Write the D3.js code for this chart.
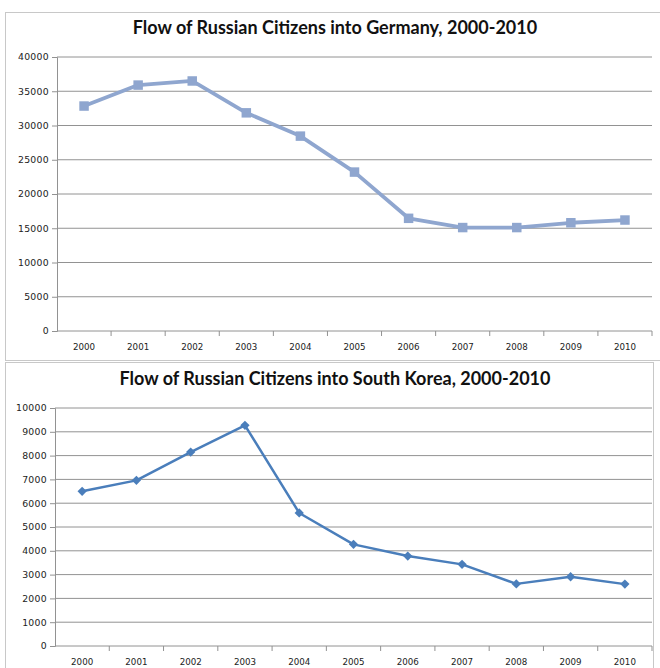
<!DOCTYPE html>
<html>
<head>
  <script src="https://d3js.org/d3.v7.min.js"></script>
  <style>
    body { margin: 0; background: #fff; }
    .tick text { font-family: "DejaVu Sans", Verdana, sans-serif; font-size: 9.3px; letter-spacing: 0.3px; fill: #222; }
    .title { font-family: Lato, "Open Sans", sans-serif; font-weight: bold; font-size: 18px; fill: #111; }
  </style>
</head>
<body>
<div id="chart"></div>
<script>
  // data
  var years = ["2000","2001","2002","2003","2004","2005","2006","2007","2008","2009","2010"];
  var germany = [32840, 35900, 36500, 31850, 28450, 23200, 16450, 15100, 15100, 15800, 16200];
  var korea = [6500, 6960, 8150, 9270, 5590, 4270, 3780, 3430, 2610, 2910, 2600];
  var germanyTicks = [0, 5000, 10000, 15000, 20000, 25000, 30000, 35000, 40000];
  var koreaTicks = [0, 1000, 2000, 3000, 4000, 5000, 6000, 7000, 8000, 9000, 10000];

  var svg = d3.select("#chart").append("svg")
    .attr("width", 660)
    .attr("height", 668);

  // one panel: box, title, grid, axes, line, markers
  function drawPanel(opt) {
    var g = svg.append("g");

    g.append("rect")
      .attr("x", opt.box[0]).attr("y", opt.box[1])
      .attr("width", opt.box[2]).attr("height", opt.box[3])
      .attr("fill", "none")
      .attr("stroke", "#c8c8c8")
      .attr("stroke-width", 1);

    g.append("text")
      .attr("class", "title")
      .attr("x", 335)
      .attr("y", opt.titleY)
      .attr("text-anchor", "middle")
      .text(opt.title);

    var x = d3.scaleBand().domain(years).range([opt.left, opt.right]);
    var y = d3.scaleLinear().domain([0, opt.max]).range([opt.bottom, opt.top]);

    // gridlines
    g.append("g")
      .selectAll("line")
      .data(opt.ticks.filter(d => d > 0))
      .join("line")
      .attr("x1", opt.left).attr("x2", opt.right)
      .attr("y1", d => y(d)).attr("y2", d => y(d))
      .attr("stroke", "#929292")
      .attr("stroke-width", 1);

    var yAxis = g.append("g")
      .attr("transform", "translate(" + opt.left + ",0)")
      .call(d3.axisLeft(y).tickValues(opt.ticks).tickSize(5).tickPadding(3).tickFormat(d3.format("d")));
    yAxis.selectAll("line, path").attr("stroke", "#929292");

    // category axis with ticks on band edges
    var xAxis = g.append("g")
      .attr("transform", "translate(0," + opt.bottom + ")");
    xAxis.append("line")
      .attr("x1", opt.left).attr("x2", opt.right)
      .attr("stroke", "#929292");
    xAxis.selectAll(".edge")
      .data(years)
      .join("line")
      .attr("class", "edge")
      .attr("x1", d => x(d) + x.bandwidth()).attr("x2", d => x(d) + x.bandwidth())
      .attr("y1", 0).attr("y2", 5)
      .attr("stroke", "#929292");
    xAxis.selectAll(".lab")
      .data(years)
      .join("text")
      .attr("class", "lab")
      .attr("x", d => x(d) + x.bandwidth() / 2)
      .attr("y", 19)
      .attr("text-anchor", "middle")
      .style("font-family", "DejaVu Sans, Verdana, sans-serif")
      .style("font-size", "8.7px")
      .style("fill", "#222")
      .text(d => d);

    var line = d3.line()
      .x((d, i) => x(years[i]) + x.bandwidth() / 2)
      .y(d => y(d));

    g.append("path")
      .datum(opt.values)
      .attr("d", line)
      .attr("fill", "none")
      .attr("stroke", opt.color)
      .attr("stroke-width", opt.lineWidth)
      .attr("stroke-linejoin", "round");

    g.append("g")
      .selectAll("path")
      .data(opt.values)
      .join("path")
      .attr("transform", (d, i) => "translate(" + (x(years[i]) + x.bandwidth() / 2) + "," + y(d) + ")")
      .attr("d", d3.symbol().type(opt.symbol).size(opt.symbolSize))
      .attr("fill", opt.color);
  }

  drawPanel({
    box: [5.5, 12.5, 660, 348],
    title: "Flow of Russian Citizens into Germany, 2000-2010",
    titleY: 34,
    left: 57, right: 652, top: 57, bottom: 331,
    max: 40000, ticks: germanyTicks, values: germany,
    color: "#8fa6cf", lineWidth: 3.8,
    symbol: d3.symbolSquare, symbolSize: 90
  });

  drawPanel({
    box: [5.5, 362.5, 648, 310],
    title: "Flow of Russian Citizens into South Korea, 2000-2010",
    titleY: 385,
    left: 55, right: 652, top: 408, bottom: 646,
    max: 10000, ticks: koreaTicks, values: korea,
    color: "#4a7ebb", lineWidth: 2.5,
    symbol: d3.symbolDiamond2, symbolSize: 55
  });
</script>
</body>
</html>
